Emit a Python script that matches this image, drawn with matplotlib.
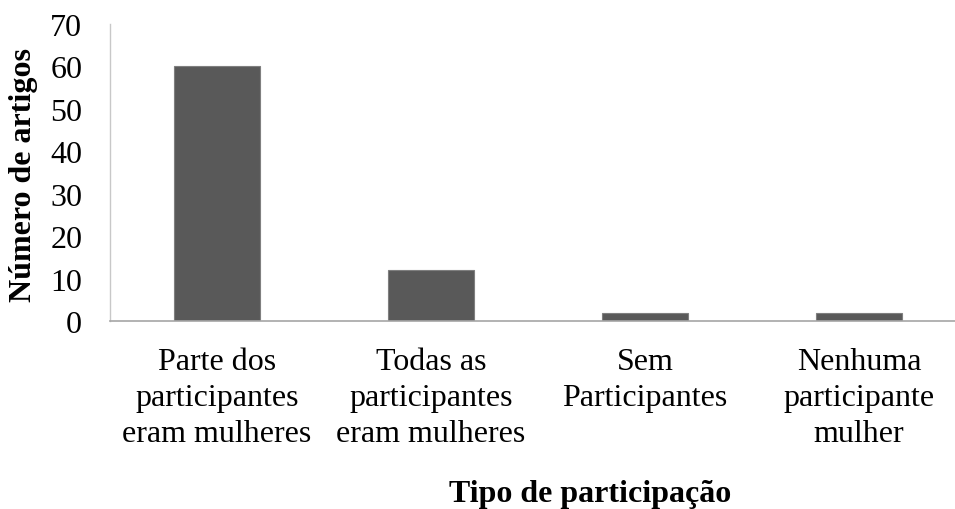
import matplotlib
matplotlib.use("Agg")
import matplotlib.pyplot as plt

# dados
categorias = ["Parte dos\nparticipantes\neram mulheres",
              "Todas as\nparticipantes\neram mulheres",
              "Sem\nParticipantes",
              "Nenhuma\nparticipante\nmulher"]
valores = [60, 12, 2, 2]
yticks = [0, 10, 20, 30, 40, 50, 60, 70]

plt.rcParams['font.family'] = ['Liberation Serif', 'DejaVu Serif']
fs = 23

fig = plt.figure(figsize=(9.55, 5.1), dpi=100)
ax = fig.add_axes([110 / 955, 188 / 510, 856 / 955, 297 / 510])

x = range(len(categorias))
ax.bar(x, valores, width=0.4, color='#595959', edgecolor='#7f7f7f', linewidth=0.8, zorder=2)

ax.set_xlim(-0.5, len(categorias) - 0.5)
ax.set_ylim(0, 70)
ax.set_yticks(yticks)
ax.set_yticklabels([str(v) for v in yticks], fontsize=fs)
ax.set_xticks(list(x))
ax.set_xticklabels(categorias, fontsize=fs, linespacing=1.3)
ax.tick_params(axis='both', length=0)
ax.tick_params(axis='y', pad=20)
ax.tick_params(axis='x', pad=19)

for s in ['top', 'right']:
    ax.spines[s].set_visible(False)
ax.spines['left'].set_color('#c8c8c8')
ax.spines['bottom'].set_color('#a6a6a6')
ax.spines['left'].set_linewidth(1.0)
ax.spines['bottom'].set_linewidth(1.2)

fig.text(24 / 955, 1 - 175 / 510, 'Número de artigos', rotation=90, fontsize=fs,
         fontweight='bold', ha='center', va='center')
fig.text(590 / 955, 1 - 495 / 510, 'Tipo de participação', fontsize=fs,
         fontweight='bold', ha='center', va='center')

fig.savefig('out.png', dpi=100)
